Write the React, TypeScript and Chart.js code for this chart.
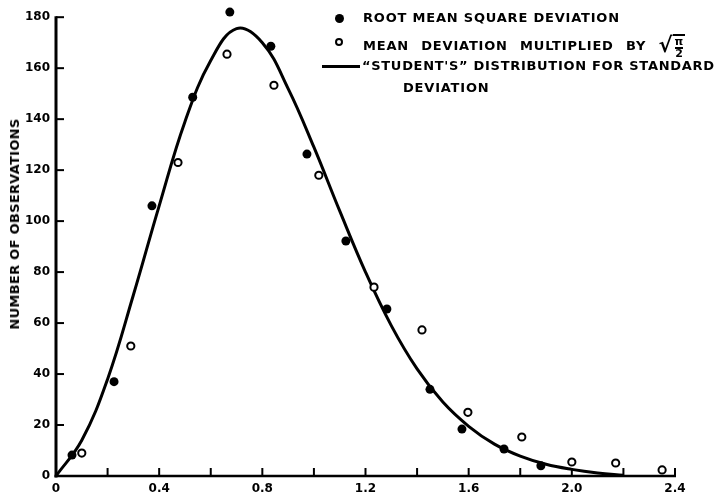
import React, { useEffect, useRef } from "react";
import { Chart, registerables } from "chart.js";

Chart.register(...registerables);

// "Student's" distribution curve
const curveX = [0, 0.1, 0.2, 0.3, 0.4, 0.5, 0.6, 0.7, 0.8, 0.9, 1.0, 1.1, 1.2, 1.3, 1.4, 1.5, 1.6, 1.7, 1.8, 1.9, 2.0, 2.1, 2.2];
const curveY = [0, 14, 38, 71, 106, 139, 163, 175.5, 170, 152, 129, 104, 80, 59, 42, 29, 19.5, 12.5, 7.8, 4.6, 2.6, 1.2, 0.3];

// Root mean square deviation (filled dots)
const rmsX = [0.062, 0.225, 0.372, 0.53, 0.674, 0.833, 0.973, 1.124, 1.283, 1.45, 1.574, 1.737, 1.88];
const rmsY = [8.2, 37, 106, 148.6, 182, 168.6, 126.3, 92.2, 65.5, 34, 18.4, 10.6, 4];

// Mean deviation multiplied by sqrt(pi/2) (open circles)
const mdX = [0.1, 0.29, 0.473, 0.663, 0.845, 1.019, 1.233, 1.419, 1.597, 1.806, 2.0, 2.17, 2.35];
const mdY = [9, 51, 123, 165.5, 153.3, 118, 74.1, 57.3, 25, 15.3, 5.5, 5.1, 2.4];

const xLabelValues = [0, 0.4, 0.8, 1.2, 1.6, 2.0, 2.4];
const yTickValues = [0, 20, 40, 60, 80, 100, 120, 140, 160, 180];

const FONT = '"DejaVu Sans", sans-serif';

const axesPlugin = {
  id: "handAxes",
  beforeDatasetsDraw(chart: any) {
    const { ctx, scales } = chart;
    const x = scales.x;
    const y = scales.y;
    const x0 = x.getPixelForValue(0);
    const y0 = y.getPixelForValue(0);
    const xEnd = x.getPixelForValue(2.4);
    const yTop = y.getPixelForValue(180);
    ctx.save();
    ctx.strokeStyle = "#000";
    ctx.lineCap = "butt";
    // y axis
    ctx.lineWidth = 3;
    ctx.beginPath();
    ctx.moveTo(x0, y0 + 1.5);
    ctx.lineTo(x0, yTop - 1);
    ctx.stroke();
    // x axis
    ctx.lineWidth = 2.5;
    ctx.beginPath();
    ctx.moveTo(x0 - 1.5, y0);
    ctx.lineTo(xEnd + 1, y0);
    ctx.stroke();
    // y ticks (inward)
    ctx.lineWidth = 2;
    for (const t of y.ticks) {
      if (t.value === 0) continue;
      const py = y.getPixelForValue(t.value);
      ctx.beginPath();
      ctx.moveTo(x0, py);
      ctx.lineTo(x0 + 8, py);
      ctx.stroke();
    }
    // x ticks (inward)
    for (const t of x.ticks) {
      if (t.value === 0) continue;
      const px = x.getPixelForValue(t.value);
      ctx.beginPath();
      ctx.moveTo(px, y0);
      ctx.lineTo(px, y0 - 8);
      ctx.stroke();
    }
    ctx.restore();
  },
};

export default function App() {
  const canvasRef = useRef<HTMLCanvasElement | null>(null);

  useEffect(() => {
    const canvas = canvasRef.current;
    if (!canvas) return;
    const chart = new Chart(canvas, {
      type: "scatter",
      data: {
        datasets: [
          {
            label: "ROOT MEAN SQUARE DEVIATION",
            data: rmsX.map((v, i) => ({ x: v, y: rmsY[i] })),
            pointRadius: 4.5,
            pointBackgroundColor: "#000",
            pointBorderColor: "#000",
            pointBorderWidth: 0,
            showLine: false,
            clip: false,
            order: 1,
          },
          {
            label: "MEAN DEVIATION MULTIPLIED BY √(π/2)",
            data: mdX.map((v, i) => ({ x: v, y: mdY[i] })),
            pointRadius: 3.6,
            pointBackgroundColor: "#fff",
            pointBorderColor: "#000",
            pointBorderWidth: 2,
            showLine: false,
            clip: false,
            order: 2,
          },
          {
            type: "line",
            label: "“STUDENT'S” DISTRIBUTION FOR STANDARD DEVIATION",
            data: curveX.map((v, i) => ({ x: v, y: curveY[i] })),
            borderColor: "#000",
            borderWidth: 3,
            pointRadius: 0,
            tension: 0.4,
            fill: false,
            clip: false,
            order: 3,
          } as any,
        ],
      },
      options: {
        responsive: false,
        animation: false,
        devicePixelRatio: 1,
        events: [],
        layout: { padding: { left: 0, right: 43, top: 7, bottom: 0 } },
        plugins: {
          legend: { display: false },
          tooltip: { enabled: false },
          title: { display: false },
        },
        scales: {
          x: {
            type: "linear",
            min: 0,
            max: 2.4,
            grid: { display: false, drawTicks: false },
            border: { display: false },
            ticks: {
              stepSize: 0.2,
              autoSkip: false,
              maxRotation: 0,
              padding: 6,
              color: "#000",
              font: { family: FONT, weight: "bold", size: 12 },
              callback: (v: any) => {
                const n = Number(v);
                const hit = xLabelValues.find((l) => Math.abs(l - n) < 1e-6);
                if (hit === undefined) return "";
                return hit === 0 ? "0" : hit.toFixed(1);
              },
            },
            afterFit: (s: any) => {
              s.height = 23;
              s.paddingLeft = 0;
              s.paddingRight = 0;
            },
          },
          y: {
            type: "linear",
            min: 0,
            max: 184,
            grid: { display: false, drawTicks: false },
            border: { display: false },
            afterBuildTicks: (s: any) => {
              s.ticks = yTickValues.map((v) => ({ value: v }));
            },
            ticks: {
              padding: 6,
              color: "#000",
              font: { family: FONT, weight: "bold", size: 12 },
              callback: (v: any) => String(v),
            },
            afterFit: (s: any) => {
              s.width = 56;
              s.paddingTop = 0;
              s.paddingBottom = 0;
            },
          },
        },
      },
      plugins: [axesPlugin],
    });
    return () => chart.destroy();
  }, []);

  const textBase: React.CSSProperties = {
    position: "absolute",
    fontFamily: FONT,
    fontWeight: 700,
    fontSize: 13,
    letterSpacing: "0.8px",
    whiteSpace: "nowrap",
    lineHeight: "16px",
    color: "#000",
  };

  return (
    <div style={{ position: "absolute", left: 0, top: 0, width: 718, height: 499, background: "#fff" }}>
      <canvas ref={canvasRef} width={718} height={499} style={{ display: "block", width: 718, height: 499 }} />
      {/* y-axis title */}
      <div
        style={{
          ...textBase,
          left: 15,
          top: 224,
          letterSpacing: "0.3px",
          transform: "translate(-50%, -50%) rotate(-90deg)",
        }}
      >
        NUMBER OF OBSERVATIONS
      </div>
      {/* legend */}
      <div
        style={{
          position: "absolute",
          left: 339 - 4.5,
          top: 18 - 4.5,
          width: 9,
          height: 9,
          borderRadius: "50%",
          background: "#000",
        }}
      />
      <div style={{ ...textBase, left: 363, top: 10 }}>ROOT MEAN SQUARE DEVIATION</div>
      <div
        style={{
          position: "absolute",
          left: 339 - 4,
          top: 42 - 4,
          width: 4,
          height: 4,
          borderRadius: "50%",
          border: "2px solid #000",
          background: "#fff",
        }}
      />
      <div style={{ ...textBase, left: 363, top: 34, wordSpacing: "7px" }}>
        MEAN DEVIATION MULTIPLIED BY{" "}
        <span style={{ fontSize: 21, letterSpacing: 0, position: "relative", top: 2 }}>√</span>
        <span
          style={{
            display: "inline-block",
            verticalAlign: "middle",
            textAlign: "center",
            fontSize: 11,
            lineHeight: "9px",
            letterSpacing: 0,
            borderTop: "2px solid #000",
            padding: "1px 2px 0 2px",
            position: "relative",
            top: 0,
          }}
        >
          <span style={{ display: "block", borderBottom: "2px solid #000", paddingBottom: 1 }}>π</span>
          <span style={{ display: "block" }}>2</span>
        </span>
      </div>
      <div style={{ position: "absolute", left: 322, top: 64.5, width: 38, height: 3, background: "#000" }} />
      <div style={{ ...textBase, left: 362, top: 58, letterSpacing: "0.7px" }}>“STUDENT'S” DISTRIBUTION FOR STANDARD</div>
      <div style={{ ...textBase, left: 403, top: 80 }}>DEVIATION</div>
    </div>
  );
}
